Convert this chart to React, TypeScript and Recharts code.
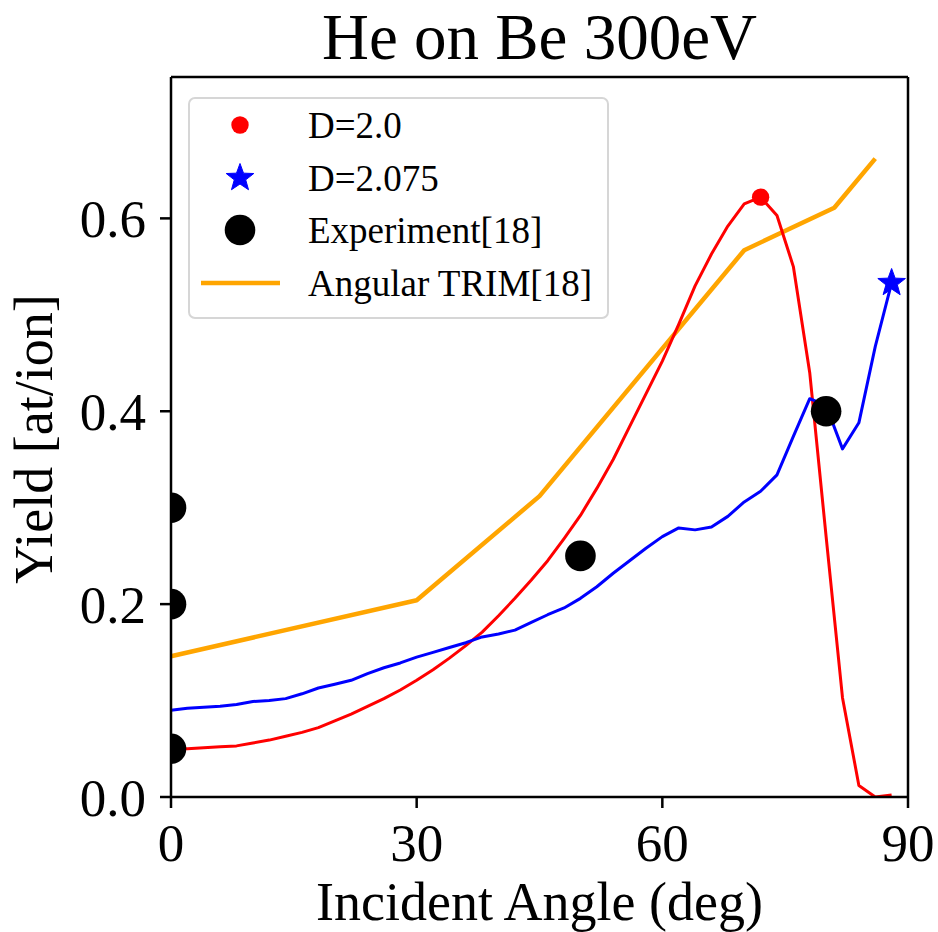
import React from 'react';
import { ComposedChart, Line, Scatter, XAxis, YAxis, Legend } from 'recharts';

const FONT = '"Liberation Serif", "Times New Roman", Times, serif';

// Incident angles (deg) of the simulated curves
const angles = [0, 2, 4, 6, 8, 10, 12, 14, 16, 18, 20, 22, 24, 26, 28, 30, 32, 34, 36, 38, 40, 42, 44, 46, 48, 50, 52, 54, 56, 58, 60, 62, 64, 66, 68, 70, 72, 74, 76, 78, 80, 82, 84, 86, 88];
// D = 2.0 (red)
const yieldD20 = [0.050, 0.050, 0.051, 0.052, 0.053, 0.056, 0.059, 0.063, 0.067, 0.072, 0.079, 0.086, 0.094, 0.102, 0.111, 0.121, 0.132, 0.144, 0.157, 0.171, 0.188, 0.206, 0.225, 0.245, 0.268, 0.292, 0.320, 0.350, 0.384, 0.418, 0.452, 0.490, 0.530, 0.563, 0.592, 0.615, 0.622, 0.603, 0.550, 0.440, 0.270, 0.103, 0.012, 0.0, 0.002];
// D = 2.075 (blue)
const yieldD2075 = [0.090, 0.092, 0.093, 0.094, 0.096, 0.099, 0.100, 0.102, 0.107, 0.113, 0.117, 0.121, 0.128, 0.134, 0.139, 0.145, 0.150, 0.155, 0.160, 0.166, 0.169, 0.173, 0.181, 0.189, 0.196, 0.206, 0.218, 0.232, 0.245, 0.258, 0.270, 0.279, 0.277, 0.280, 0.291, 0.306, 0.317, 0.334, 0.374, 0.413, 0.406, 0.361, 0.388, 0.467, 0.533];
// Angular TRIM[18]
const trimAngles = [0, 30, 45, 70, 81, 86];
const trimYield = [0.146, 0.204, 0.312, 0.567, 0.611, 0.662];
// Experiment[18]
const expAngles = [0, 0, 0, 50, 80];
const expYield = [0.05, 0.2, 0.3, 0.25, 0.4];

const xDomain = [0, 90];
const yDomain = [0, 0.7466];
const xTicks = [0, 30, 60, 90];
const yTicks = [0, 0.2, 0.4, 0.6];

const toPoints = (xs: number[], ys: number[]) => xs.map((x, i) => ({ x, y: ys[i] }));
const maxPoint = (pts: { x: number; y: number }[]) => pts.reduce((a, b) => (b.y > a.y ? b : a));

const redData = toPoints(angles, yieldD20);
const blueData = toPoints(angles, yieldD2075);
const trimData = toPoints(trimAngles, trimYield);
const expData = toPoints(expAngles, expYield);
const redMax = [maxPoint(redData)];
const blueMax = [maxPoint(blueData)];

const starPoints = (cx: number, cy: number, Ro: number, ri: number) => {
  const pts: string[] = [];
  for (let i = 0; i < 10; i++) {
    const a = (-90 + i * 36) * Math.PI / 180;
    const rad = i % 2 === 0 ? Ro : ri;
    pts.push(`${cx + rad * Math.cos(a)},${cy + rad * Math.sin(a)}`);
  }
  return pts.join(' ');
};

const CHART_W = 938;
const CHART_H = 932;
const MARGIN = { top: 76, right: 29, bottom: 0, left: 0 };

const StarShape = (props: any) => (
  <polygon points={starPoints(Number(props.cx), Number(props.cy), 14.5, 6)} fill="blue" stroke="blue" strokeWidth={1} strokeLinejoin="round" />
);
const RedDot = (props: any) => <circle cx={props.cx} cy={props.cy} r={8.7} fill="red" />;

// Experiment marker; a point sitting on the left axis is cut in half (matplotlib clips markers to the axes)
const renderExpDot = (props: any) => {
  const cx = Number(props.cx);
  const cy = Number(props.cy);
  const key = `exp-${props.index}`;
  const r = 15.3;
  const px = props.payload ? Number(props.payload.x) : NaN;
  if (px <= xDomain[0]) {
    const path = `M ${cx} ${cy - r} A ${r} ${r} 0 0 1 ${cx} ${cy + r} Z`;
    return <path key={key} d={path} fill="black" />;
  }
  return <circle key={key} cx={cx} cy={cy} r={r} fill="black" />;
};

const renderLegend = () => (
  <div
    style={{
      width: 421,
      height: 222,
      boxSizing: 'border-box',
      border: '2px solid #d6d6d6',
      borderRadius: 7,
      background: 'rgba(255,255,255,0.85)',
    }}
  >
    <svg width={417} height={218} style={{ display: 'block' }}>
      <g transform="translate(-2,-2)" fontFamily={FONT} fontSize={37} fill="black">
        <circle cx={52} cy={28} r={8.7} fill="red" />
        <text x={120} y={41}>D=2.0</text>
        <polygon points={starPoints(52, 81, 14.5, 6)} fill="blue" stroke="blue" strokeWidth={1} strokeLinejoin="round" />
        <text x={120} y={94}>D=2.075</text>
        <circle cx={52} cy={133} r={15.3} fill="black" />
        <text x={120} y={146}>Experiment[18]</text>
        <line x1={13} x2={92} y1={186} y2={186} stroke="orange" strokeWidth={4.5} />
        <text x={120} y={199}>Angular TRIM[18]</text>
      </g>
    </svg>
  </div>
);

const TitleLabel = (props: any) => {
  const vb = props.viewBox || { x: 171, y: 76, width: 737 };
  return (
    <text x={vb.x + vb.width / 2} y={vb.y - 17} textAnchor="middle" fontFamily={FONT} fontSize={65} fill="black">
      He on Be 300eV
    </text>
  );
};
const XLabel = (props: any) => {
  const vb = props.viewBox || { x: 171, y: 797, width: 737 };
  return (
    <text x={vb.x + vb.width / 2} y={vb.y + 123} textAnchor="middle" fontFamily={FONT} fontSize={54} fill="black">
      Incident Angle (deg)
    </text>
  );
};
const YLabel = (props: any) => {
  const vb = props.viewBox || { x: 0, y: 77, width: 171, height: 720 };
  const x = vb.x + 52;
  const y = vb.y + vb.height / 2 + 2;
  return (
    <text x={x} y={y} transform={`rotate(-90, ${x}, ${y})`} textAnchor="middle" fontFamily={FONT} fontSize={54} fill="black">
      Yield [at/ion]
    </text>
  );
};

const tickStyle = { fontSize: 53, fill: 'black', fontFamily: FONT };
const axisLine = { stroke: 'black', strokeWidth: 2.5 };
const tickLine = { stroke: 'black', strokeWidth: 2.5 };

export default function App() {
  return (
    <div style={{ position: 'absolute', left: 0, top: 0, width: CHART_W, height: CHART_H, background: 'white' }}>
      <ComposedChart width={CHART_W} height={CHART_H} margin={MARGIN}>
        <XAxis
          xAxisId={0}
          dataKey="x"
          type="number"
          domain={xDomain}
          ticks={xTicks}
          height={135}
          tickSize={11}
          tickMargin={15}
          tick={tickStyle}
          axisLine={axisLine}
          tickLine={tickLine}
          label={{ content: XLabel }}
        />
        <XAxis
          xAxisId="top"
          orientation="top"
          dataKey="x"
          type="number"
          domain={xDomain}
          height={1}
          tick={false}
          tickLine={false}
          axisLine={axisLine}
          label={{ content: TitleLabel }}
        />
        <YAxis
          yAxisId={0}
          dataKey="y"
          type="number"
          domain={yDomain}
          ticks={yTicks}
          allowDataOverflow
          width={171}
          tickSize={11}
          tickMargin={14}
          tick={tickStyle}
          tickFormatter={(v: number) => v.toFixed(1)}
          axisLine={axisLine}
          tickLine={tickLine}
          label={{ content: YLabel }}
        />
        <YAxis
          yAxisId="right"
          orientation="right"
          type="number"
          domain={yDomain}
          width={1}
          tick={false}
          tickLine={false}
          axisLine={axisLine}
        />
        <Legend
          layout="vertical"
          align="center"
          verticalAlign="middle"
          content={renderLegend}
          wrapperStyle={{ left: 188, top: 97, width: 421, height: 222 }}
        />
        <Line data={trimData} dataKey="y" stroke="orange" strokeWidth={4.5} dot={false} isAnimationActive={false} strokeLinejoin="round" />
        <Line data={expData} dataKey="y" stroke="none" strokeWidth={0} dot={renderExpDot} activeDot={false} isAnimationActive={false} />
        <Line data={redData} dataKey="y" stroke="red" strokeWidth={3} dot={false} isAnimationActive={false} strokeLinejoin="round" />
        <Scatter data={redMax} dataKey="y" shape={RedDot} isAnimationActive={false} />
        <Line data={blueData} dataKey="y" stroke="blue" strokeWidth={3} dot={false} isAnimationActive={false} strokeLinejoin="round" />
        <Scatter data={blueMax} dataKey="y" shape={StarShape} isAnimationActive={false} />
      </ComposedChart>
    </div>
  );
}
